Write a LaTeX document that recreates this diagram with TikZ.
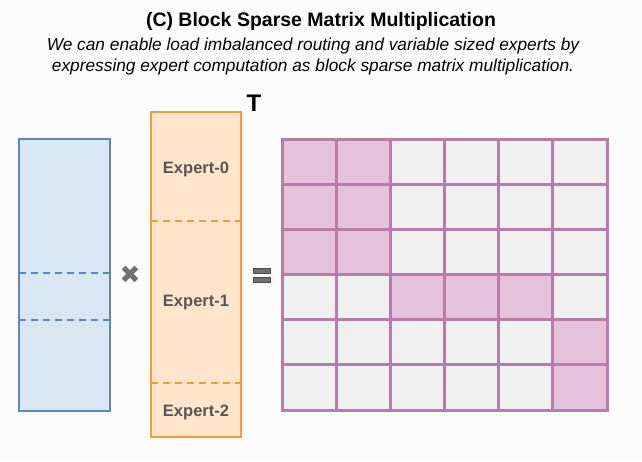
\documentclass[tikz,border=0pt]{standalone}
\usepackage{fontspec}
\setmainfont{Liberation Sans}
\newfontfamily\symfont{DejaVu Sans}
\definecolor{bgc}{HTML}{FCFCFC}
\definecolor{bluefill}{HTML}{DAE8F4}
\definecolor{bluedraw}{HTML}{5E87B6}
\definecolor{orfill}{HTML}{FFE5CB}
\definecolor{ordraw}{HTML}{F59B33}
\definecolor{pkfill}{HTML}{E5C2DB}
\definecolor{pkdraw}{HTML}{B67DAA}
\definecolor{cellgray}{HTML}{F0F0F0}
\definecolor{labgray}{HTML}{555555}
\definecolor{symgray}{HTML}{707070}
\definecolor{symdark}{HTML}{4A4A4A}
\begin{document}
\begin{tikzpicture}[x=1pt,y=-1pt,
  lab/.style={font=\fontsize{16.5}{18}\selectfont\bfseries, text=labgray, inner sep=0pt},
  bluebox/.style={draw=bluedraw, fill=bluefill, line width=2.5pt},
  orbox/.style={draw=ordraw, fill=orfill, line width=2.8pt},
  bluedash/.style={draw=bluedraw, line width=2.5pt, dash pattern=on 7pt off 5pt},
  ordash/.style={draw=ordraw, line width=2.6pt, dash pattern=on 7pt off 5pt},
  gridline/.style={draw=pkdraw, line width=3pt},
  bar/.style={draw=symdark, fill=symgray, line width=0.9pt}
]
\fill[bgc] (0,0) rectangle (642,461);
\useasboundingbox (0,0) rectangle (642,461);

% title
\node[inner sep=0pt, font=\fontsize{19.5}{22}\selectfont\bfseries] (title) at (321,21) {(C) Block Sparse Matrix Multiplication};
\node[inner sep=0pt, align=center, font=\fontsize{17.3}{21}\selectfont\itshape] (sub) at (313,57)
  {We can enable load imbalanced routing and variable sized experts by\\expressing expert computation as block sparse matrix multiplication.};

% left matrix
\path[bluebox] (19,139) rectangle (110,411);
\coordinate (bl1) at (19,273); \coordinate (br1) at (110,273);
\coordinate (bl2) at (19,320); \coordinate (br2) at (110,320);
\draw[bluedash] (bl1) -- (br1);
\draw[bluedash] (bl2) -- (br2);

% times
\node[inner sep=0pt, text=symgray, font=\symfont\fontsize{25}{25}\selectfont] (times) at (130,274.5) {✖};

% expert matrix
\path[orbox] (151,112) rectangle (241,437);
\coordinate (ol1) at (151,221); \coordinate (or1) at (241,221);
\coordinate (ol2) at (151,383); \coordinate (or2) at (241,383);
\draw[ordash] (ol1) -- (or1);
\draw[ordash] (ol2) -- (or2);
\node[lab] (e0) at (196,169) {Expert-0};
\node[lab] (e1) at (196,303) {Expert-1};
\node[lab] (e2) at (196,412) {Expert-2};
\node[inner sep=0pt, font=\fontsize{24}{24}\selectfont\bfseries] (T) at (254,103) {T};

% equals
\path[bar] (253.5,268.5) rectangle (270.5,273.5);
\path[bar] (253.5,277) rectangle (270.5,282);

% result grid
\foreach \r in {0,...,5} {
  \foreach \c in {0,...,5} {
    \fill[cellgray] ({282+\c*54.17},{139+\r*45.17}) rectangle ++(54.17,45.17);
  }
}
\foreach \r/\c in {0/0,0/1,1/0,1/1,2/0,2/1,3/2,3/3,3/4,4/5,5/5} {
  \fill[pkfill] ({282+\c*54.17},{139+\r*45.17}) rectangle ++(54.17,45.17);
}
\foreach \i in {0,...,6} {
  \draw[gridline] ({282+\i*54.17},139) -- ({282+\i*54.17},410);
  \draw[gridline] (282,{139+\i*45.17}) -- (607,{139+\i*45.17});
}
\draw[gridline] (282,139) rectangle (607,410);
\end{tikzpicture}
\end{document}
